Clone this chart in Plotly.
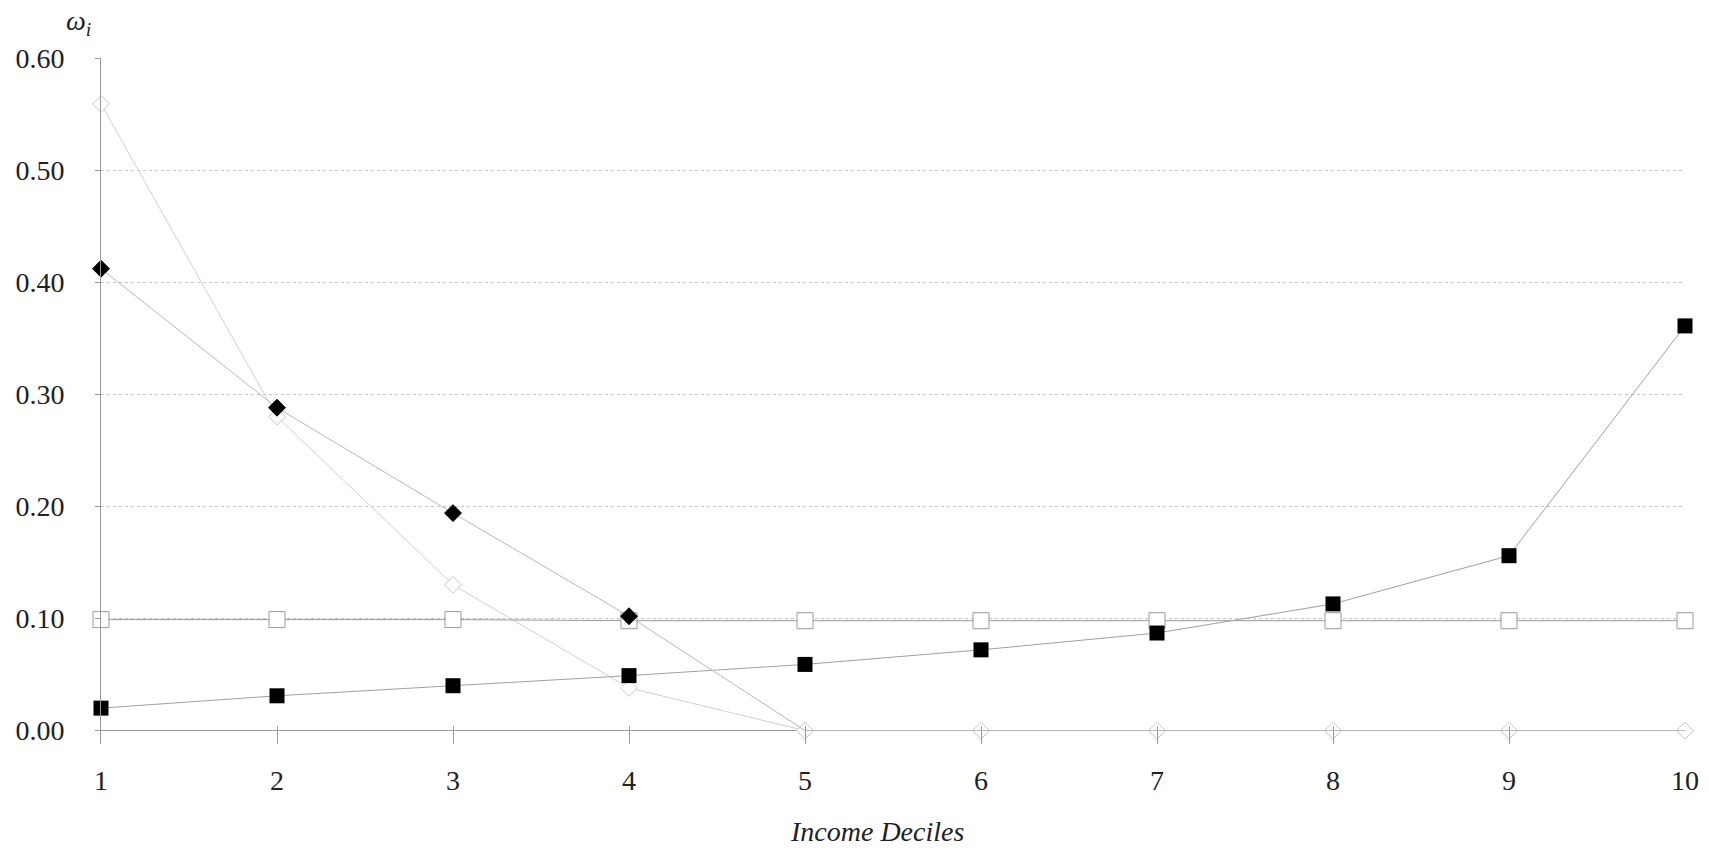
import plotly.graph_objects as go

deciles = [1, 2, 3, 4, 5, 6, 7, 8, 9, 10]
filled_diamond = [0.412, 0.288, 0.194, 0.102, 0.0, 0.0, 0.0, 0.0, 0.0, 0.0]
open_diamond = [0.559, 0.280, 0.130, 0.038, 0.0, 0.0, 0.0, 0.0, 0.0, 0.0]
open_square = [0.099, 0.099, 0.099, 0.098, 0.098, 0.098, 0.098, 0.098, 0.098, 0.098]
filled_square = [0.020, 0.031, 0.040, 0.049, 0.059, 0.072, 0.087, 0.113, 0.156, 0.361]
y_ticks = [0.0, 0.1, 0.2, 0.3, 0.4, 0.5, 0.6]
y_ticktext = ["0.00", "0.10", "0.20", "0.30", "0.40", "0.50", "0.60"]

FONT = "Liberation Serif"

fig = go.Figure()

# open diamond series
fig.add_trace(go.Scatter(
    x=deciles, y=open_diamond, mode="lines+markers",
    line=dict(color="#d0d0d0", width=1),
    marker=dict(symbol="diamond", size=13, color="white",
                line=dict(color="#c8c8c8", width=1)),
    cliponaxis=False, showlegend=False))

# open square series
fig.add_trace(go.Scatter(
    x=deciles, y=open_square, mode="lines+markers",
    line=dict(color="#9a9a9a", width=1),
    marker=dict(symbol="square", size=16, color="white",
                line=dict(color="#999999", width=1)),
    cliponaxis=False, showlegend=False))

# filled square series
fig.add_trace(go.Scatter(
    x=deciles, y=filled_square, mode="lines+markers",
    line=dict(color="#a0a0a0", width=1),
    marker=dict(symbol="square", size=15, color="#000000", line=dict(width=0)),
    cliponaxis=False, showlegend=False))

# filled diamond series (markers hidden once it reaches zero)
fig.add_trace(go.Scatter(
    x=deciles, y=filled_diamond, mode="lines+markers",
    line=dict(color="#b8b8b8", width=1),
    marker=dict(symbol="diamond", size=[13, 13, 13, 13, 0, 0, 0, 0, 0, 0],
                color="#000000", opacity=1,
                line=dict(color="#000000", width=1)),
    cliponaxis=False, showlegend=False))

fig.update_layout(
    width=1709, height=852, autosize=False,
    margin=dict(l=101, r=24, t=58, b=108),
    paper_bgcolor="white", plot_bgcolor="white",
    font=dict(family=FONT, size=28, color="#222222"),
    xaxis=dict(
        range=[1, 10], tickvals=deciles, ticktext=[str(d) for d in deciles],
        ticks="inside", ticklen=18, tickcolor="#9a9a9a", tickwidth=1,
        showline=False, showgrid=False, zeroline=False, automargin=False,
        tickfont=dict(family=FONT, size=28, color="#222222"),
        ticklabelstandoff=17,
    ),
    yaxis=dict(
        range=[-0.012, 0.6], tickvals=y_ticks, ticktext=y_ticktext,
        ticks="outside", ticklen=5, tickcolor="#9a9a9a",
        showline=True, linecolor="#9a9a9a", linewidth=1, automargin=False,
        showgrid=True, gridcolor="#c4c4c4", griddash="dot", gridwidth=1,
        zeroline=True, zerolinecolor="#9a9a9a", zerolinewidth=1,
        tickfont=dict(family=FONT, size=28, color="#222222"),
        ticklabelstandoff=25,
    ),
    annotations=[
        dict(text="<i>ω<sub>i</sub></i>", xref="paper", yref="paper",
             x=-0.014, y=1.052, xanchor="center", yanchor="middle",
             showarrow=False, font=dict(family=FONT, size=28, color="#222222")),
        dict(text="<i>Income Deciles</i>", xref="paper", yref="paper",
             x=0.49, y=-0.128, xanchor="center", yanchor="middle",
             showarrow=False, font=dict(family=FONT, size=28, color="#222222")),
    ],
)

# remove the default 8px page margin so the figure fills the window exactly
fig.write_html(
    "out.html",
    config={"displayModeBar": False},
    post_script="document.body.style.margin='0';document.body.style.overflow='hidden';",
)
